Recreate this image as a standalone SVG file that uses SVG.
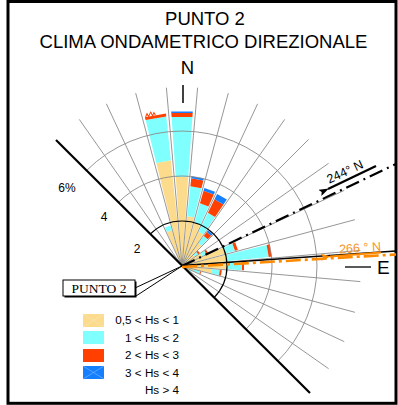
<svg xmlns="http://www.w3.org/2000/svg" width="398" height="405" viewBox="0 0 398 405">
<style>
text{font-family:"Liberation Sans",Arial,sans-serif;fill:#000}
.y{fill:#FCDC8C}.c{fill:#80FFFF}.r{fill:#FF4000}.b{fill:#1580FF}
.grid{fill:none;stroke:#8a8a8a;stroke-width:0.9}
</style>
<defs>
<marker id="ah" markerUnits="userSpaceOnUse" markerWidth="10" markerHeight="7" refX="1" refY="3.5" orient="auto">
<path d="M0,3.5 L10,0 L8,3.5 L10,7 z" fill="context-stroke"/>
</marker>
<marker id="ahb" markerUnits="userSpaceOnUse" markerWidth="10" markerHeight="7" refX="1" refY="3.5" orient="auto">
<path d="M0,3.5 L10,0 L8,3.5 L10,7 z" fill="#000"/>
</marker>
<marker id="aho" markerUnits="userSpaceOnUse" markerWidth="10" markerHeight="7" refX="1" refY="3.5" orient="auto">
<path d="M0,3.5 L10,0 L8,3.5 L10,7 z" fill="#FF8A00"/>
</marker>
</defs>
<rect x="0" y="0" width="398" height="405" fill="#fff"/>
<rect x="8" y="1.5" width="388" height="401.8" fill="none" stroke="#000" stroke-width="3"/>

<g id="title">
<text x="205" y="25" font-size="18.5" text-anchor="middle">PUNTO 2</text>
<text x="203.5" y="48" font-size="18.5" text-anchor="middle">CLIMA ONDAMETRICO DIREZIONALE</text>
</g>

<g id="bars">
<g id="bar-340" transform="translate(182 266) rotate(-20)">
<polygon class="y" points="0,0 -2.59,-37 2.59,-37"/>
<polygon class="c" points="-2.59,-37 -2.94,-42 2.94,-42 2.59,-37"/>
</g>
<g id="bar-350" transform="translate(182 266) rotate(-10)">
<polygon class="y" points="0,0 -7.42,-106 7.42,-106"/>
<polygon class="c" points="-7.42,-106 -10.5,-150 10.5,-150 7.42,-106"/>
<polygon class="r" points="-10.5,-150 -10.71,-153 10.71,-153 10.5,-150"/>
<path d="M-10,-153 l2,-3 l1,3 l3,-4 l1,4 l2,-3 l1,3" fill="none" stroke="#FF4000" stroke-width="1"/>
</g>
<g id="bar-000" transform="translate(182 266)">
<polygon class="y" points="0,0 -6.23,-89 6.23,-89"/>
<polygon class="c" points="-6.23,-89 -10.43,-149 10.43,-149 6.23,-89"/>
<polygon class="r" points="-10.43,-149 -10.71,-153 10.71,-153 10.43,-149"/>
<polygon class="b" points="-10.71,-153 -10.82,-154.5 10.82,-154.5 10.71,-153"/>
</g>
<g id="bar-010" transform="translate(182 266) rotate(10)">
<polygon class="y" points="0,0 -3.5,-50 3.5,-50"/>
<polygon class="c" points="-3.5,-50 -5.6,-80 5.6,-80 3.5,-50"/>
<polygon class="r" points="-5.6,-80 -6.16,-88 6.16,-88 5.6,-80"/>
<polygon class="b" points="-6.16,-88 -6.3,-90 6.3,-90 6.16,-88"/>
</g>
<g id="bar-020" transform="translate(182 266) rotate(20)">
<polygon class="y" points="0,0 -3.15,-45 3.15,-45"/>
<polygon class="c" points="-3.15,-45 -4.55,-65 4.55,-65 3.15,-45"/>
<polygon class="r" points="-4.55,-65 -5.46,-78 5.46,-78 4.55,-65"/>
<polygon class="b" points="-5.46,-78 -5.67,-81 5.67,-81 5.46,-78"/>
</g>
<g id="bar-030" transform="translate(182 266) rotate(30)">
<polygon class="y" points="0,0 -2.66,-38 2.66,-38"/>
<polygon class="c" points="-2.66,-38 -4.13,-59 4.13,-59 2.66,-38"/>
<polygon class="r" points="-4.13,-59 -5.18,-74 5.18,-74 4.13,-59"/>
<polygon class="b" points="-5.18,-74 -5.6,-80 5.6,-80 5.18,-74"/>
</g>
<g id="bar-040" transform="translate(182 266) rotate(40)">
<polygon class="y" points="0,0 -1.96,-28 1.96,-28"/>
<polygon class="c" points="-1.96,-28 -2.59,-37 2.59,-37 1.96,-28"/>
<polygon class="r" points="-2.59,-37 -2.94,-42 2.94,-42 2.59,-37"/>
<polygon class="b" points="-2.94,-42 -3.08,-44 3.08,-44 2.94,-42"/>
</g>
<g id="bar-050" transform="translate(182 266) rotate(50)">
<polygon class="y" points="0,0 -1.12,-16 1.12,-16"/>
<polygon class="c" points="-1.12,-16 -1.4,-20 1.4,-20 1.12,-16"/>
<polygon class="r" points="-1.4,-20 -1.54,-22 1.54,-22 1.4,-20"/>
</g>
<g id="bar-060" transform="translate(182 266) rotate(60)">
<polygon class="y" points="0,0 -1.54,-22 1.54,-22"/>
<polygon class="c" points="-1.54,-22 -1.89,-27 1.89,-27 1.54,-22"/>
<polygon class="r" points="-1.89,-27 -2.03,-29 2.03,-29 1.89,-27"/>
</g>
<g id="bar-070" transform="translate(182 266) rotate(70)">
<polygon class="y" points="0,0 -3.15,-45 3.15,-45"/>
<polygon class="c" points="-3.15,-45 -3.85,-55 3.85,-55 3.15,-45"/>
<polygon class="r" points="-3.85,-55 -4.06,-58 4.06,-58 3.85,-55"/>
</g>
<g id="bar-080" transform="translate(182 266) rotate(80)">
<polygon class="y" points="0,0 -3.15,-45 3.15,-45"/>
<polygon class="c" points="-3.15,-45 -6.09,-87 6.09,-87 3.15,-45"/>
<polygon class="r" points="-6.09,-87 -6.3,-90 6.3,-90 6.09,-87"/>
</g>
<g id="bar-090" transform="translate(182 266) rotate(90)">
<polygon class="y" points="0,0 -3.22,-46 3.22,-46"/>
<polygon class="c" points="-3.22,-46 -4.2,-60 4.2,-60 3.22,-46"/>
<polygon class="r" points="-4.2,-60 -4.34,-62 4.34,-62 4.2,-60"/>
</g>
<g id="bar-100" transform="translate(182 266) rotate(100)">
<polygon class="y" points="0,0 -2.1,-30 2.1,-30"/>
<polygon class="c" points="-2.1,-30 -2.66,-38 2.66,-38 2.1,-30"/>
<polygon class="r" points="-2.66,-38 -2.8,-40 2.8,-40 2.66,-38"/>
</g>
<g id="bar-110" transform="translate(182 266) rotate(110)">
<polygon class="y" points="0,0 -0.84,-12 0.84,-12"/>
<polygon class="c" points="-0.84,-12 -1.33,-19 1.33,-19 0.84,-12"/>
<polygon class="r" points="-1.33,-19 -1.4,-20 1.4,-20 1.33,-19"/>
</g>
<g id="bar-120" transform="translate(182 266) rotate(120)">
<polygon class="y" points="0,0 -0.56,-8 0.56,-8"/>
<polygon class="c" points="-0.56,-8 -0.77,-11 0.77,-11 0.56,-8"/>
</g>
</g>

<g id="grid">
<path class="grid" d="M182 266l-102.7 -146.6M182 266l-75.6 -162.2M182 266l-46.3 -172.9M182 266l-15.6 -178.3M182 266l15.6 -178.3M182 266l46.3 -172.9M182 266l75.6 -162.2M182 266l102.7 -146.6M182 266l126.6 -126.6M182 266l146.6 -102.7M182 266l162.2 -75.6M182 266l172.9 -46.3M182 266l178.3 -15.6M182 266l178.3 15.6M182 266l172.9 46.3M182 266l162.2 75.6M182 266l146.6 102.7"/>
<path class="grid" d="M86.54 170.54A135 135 0 0 1 277.46 361.46M118.36 202.36A90 90 0 0 1 245.64 329.64"/>
<path d="M150.18 234.18A45 45 0 0 1 213.82 297.82" fill="none" stroke="#000" stroke-width="1.2"/>
<text x="67" y="192" font-size="12" text-anchor="middle">6%</text>
<text x="104" y="221" font-size="12" text-anchor="middle">4</text>
<text x="137" y="253" font-size="12" text-anchor="middle">2</text>
</g>

<g id="coast">
<line x1="56" y1="140" x2="310" y2="393" stroke="#000" stroke-width="2.2"/>
</g>

<g id="connectors">
<line x1="182" y1="266" x2="396" y2="164" stroke="#000" stroke-width="2.2" stroke-dasharray="14 5 2 5"/>
<line x1="182" y1="265.5" x2="396" y2="251" stroke="#000" stroke-width="1.3"/>
<line x1="182" y1="267" x2="396" y2="254.5" stroke="#FF8A00" stroke-width="2.6" stroke-dasharray="15 4 3 4"/>
<line x1="376" y1="166" x2="328" y2="189" stroke="#000" stroke-width="2.4" marker-end="url(#ahb)"/>
<line x1="381" y1="252.5" x2="330" y2="256.5" stroke="#FF8A00" stroke-width="2" marker-end="url(#aho)"/>
<line x1="183" y1="85" x2="183" y2="103" stroke="#000" stroke-width="1.5"/>
<line x1="345" y1="267" x2="371" y2="267" stroke="#000" stroke-width="1.3"/>
<path d="M135 288 L182 266 L136 296" fill="none" stroke="#000" stroke-width="1"/>
</g>

<g id="labels">
<text x="187.5" y="74" font-size="18.5" text-anchor="middle">N</text>
<text x="377" y="274" font-size="19">E</text>
<text x="345" y="176" font-size="12.5" text-anchor="middle" transform="rotate(-25 345 172)">244° N</text>
<text x="360" y="252" font-size="12.5" text-anchor="middle" style="fill:#F7941D" transform="rotate(-4 360 248)">266 ° N</text>
</g>

<g id="punto2">
<rect x="64.5" y="281.5" width="72" height="16" fill="#000"/>
<rect x="63" y="280" width="72" height="16" fill="#fff" stroke="#000" stroke-width="1"/>
<text x="99" y="292.5" font-size="13.5" text-anchor="middle" style="font-family:'Liberation Serif','Times New Roman',serif">PUNTO 2</text>
</g>

<g id="legend">
<rect class="y" x="83" y="314" width="21" height="13"/>
<path d="M83 314l21 13M104 314l-21 13" stroke="#F5E6B8" stroke-width="0.6"/>
<rect class="c" x="83" y="331" width="21" height="13"/>
<rect class="r" x="83" y="349" width="21" height="13"/>
<rect class="b" x="83" y="366" width="21" height="13"/>
<path d="M83 366l21 13M104 366l-21 13" stroke="#7FB8FF" stroke-width="0.6"/>
<text x="179" y="324" font-size="11.7" text-anchor="end">0,5 &lt; Hs &lt; 1</text>
<text x="179" y="342" font-size="11.7" text-anchor="end">1 &lt; Hs &lt; 2</text>
<text x="179" y="359" font-size="11.7" text-anchor="end">2 &lt; Hs &lt; 3</text>
<text x="179" y="376.5" font-size="11.7" text-anchor="end">3 &lt; Hs &lt; 4</text>
<text x="179" y="394" font-size="11.7" text-anchor="end">Hs &gt; 4</text>
</g>
</svg>
